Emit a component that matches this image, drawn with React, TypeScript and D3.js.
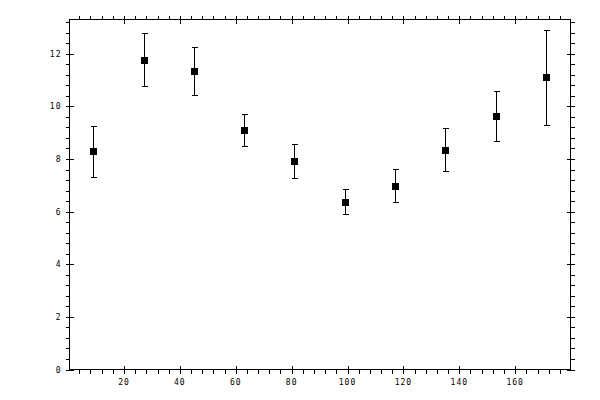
import * as d3 from "d3";
import React, { useEffect, useRef } from "react";

const xs = [9, 27, 45, 63, 81, 99, 117, 135, 153, 171];
const ys = [8.3, 11.78, 11.35, 9.1, 7.92, 6.38, 6.98, 8.35, 9.65, 11.1];
const errs = [0.97, 1.0, 0.9, 0.62, 0.63, 0.48, 0.63, 0.81, 0.95, 1.82];
const xTicks = [20, 40, 60, 80, 100, 120, 140, 160];
const yTicks = [0, 2, 4, 6, 8, 10, 12];

export default function App() {
  const svgRef = useRef<SVGSVGElement | null>(null);

  useEffect(() => {
    const svg = d3.select(svgRef.current);
    svg.selectAll("*").remove();

    const left = 69.5, right = 570.5, top = 19.5, bottom = 369.5;
    const x = d3.scaleLinear().domain([0.5, 179.8]).range([left, right]);
    const y = d3.scaleLinear().domain([0, 13.3]).range([bottom, top]);

    const root = svg.append("g").attr("shape-rendering", "crispEdges");
    const stroke = "#000";

    // frame
    root.append("rect")
      .attr("x", left).attr("y", top)
      .attr("width", right - left).attr("height", bottom - top)
      .attr("fill", "none").attr("stroke", stroke).attr("stroke-width", 1);

    // minor ticks every 4 on x, every 0.4 on y (outward)
    const xMinor = d3.range(4, 180, 4).filter(v => v % 20 !== 0);
    const yMinor = d3.range(0.4, 13.3, 0.4).filter(v => Math.abs(v / 2 - Math.round(v / 2)) > 0.01);

    const ticks = root.append("g").attr("stroke", stroke).attr("stroke-width", 1);
    xMinor.forEach(v => {
      const px = Math.round(x(v)) + 0.5;
      ticks.append("line").attr("x1", px).attr("x2", px).attr("y1", bottom).attr("y2", bottom + 4);
      ticks.append("line").attr("x1", px).attr("x2", px).attr("y1", top).attr("y2", top - 4);
    });
    yMinor.forEach(v => {
      const py = Math.round(y(v)) + 0.5;
      ticks.append("line").attr("x1", left).attr("x2", left - 4).attr("y1", py).attr("y2", py);
      ticks.append("line").attr("x1", right).attr("x2", right + 4).attr("y1", py).attr("y2", py);
    });
    // major ticks cross the frame
    xTicks.forEach(v => {
      const px = Math.round(x(v)) + 0.5;
      ticks.append("line").attr("x1", px).attr("x2", px).attr("y1", bottom - 4).attr("y2", bottom + 4);
      ticks.append("line").attr("x1", px).attr("x2", px).attr("y1", top - 4).attr("y2", top + 4);
    });
    yTicks.forEach(v => {
      const py = Math.round(y(v)) + 0.5;
      ticks.append("line").attr("x1", left - 4).attr("x2", left + 4).attr("y1", py).attr("y2", py);
      ticks.append("line").attr("x1", right - 4).attr("x2", right + 4).attr("y1", py).attr("y2", py);
    });

    // tick labels
    const font = "'DejaVu Sans Mono', monospace";
    root.append("g").selectAll("text").data(xTicks).join("text")
      .attr("x", d => x(d))
      .attr("y", bottom + 15)
      .attr("text-anchor", "middle")
      .attr("font-family", font).attr("font-size", 8).attr("letter-spacing", 1)
      .text(d => d);
    root.append("g").selectAll("text").data(yTicks).join("text")
      .attr("x", left - 8)
      .attr("y", d => y(d) + 3)
      .attr("text-anchor", "end")
      .attr("font-family", font).attr("font-size", 8).attr("letter-spacing", 1)
      .text(d => d);

    // error bars
    const pts = xs.map((v, i) => ({ x: v, y: ys[i], e: errs[i] }));
    const bars = root.append("g").attr("stroke", stroke).attr("stroke-width", 1);
    pts.forEach(p => {
      const px = Math.round(x(p.x)) + 0.5;
      const y0 = Math.round(y(p.y - p.e)) + 0.5;
      const y1 = Math.round(y(p.y + p.e)) + 0.5;
      bars.append("line").attr("x1", px).attr("x2", px).attr("y1", y0).attr("y2", y1);
      bars.append("line").attr("x1", px - 3).attr("x2", px + 3).attr("y1", y0).attr("y2", y0);
      bars.append("line").attr("x1", px - 3).attr("x2", px + 3).attr("y1", y1).attr("y2", y1);
    });

    // square markers
    root.append("g").selectAll("rect").data(pts).join("rect")
      .attr("x", d => Math.round(x(d.x)) - 3)
      .attr("y", d => Math.round(y(d.y)) - 3)
      .attr("width", 7).attr("height", 7)
      .attr("fill", stroke);
  }, []);

  return (
    <svg
      ref={svgRef}
      width={600}
      height={400}
      style={{ position: "absolute", left: 0, top: 0, background: "#fff" }}
    />
  );
}
